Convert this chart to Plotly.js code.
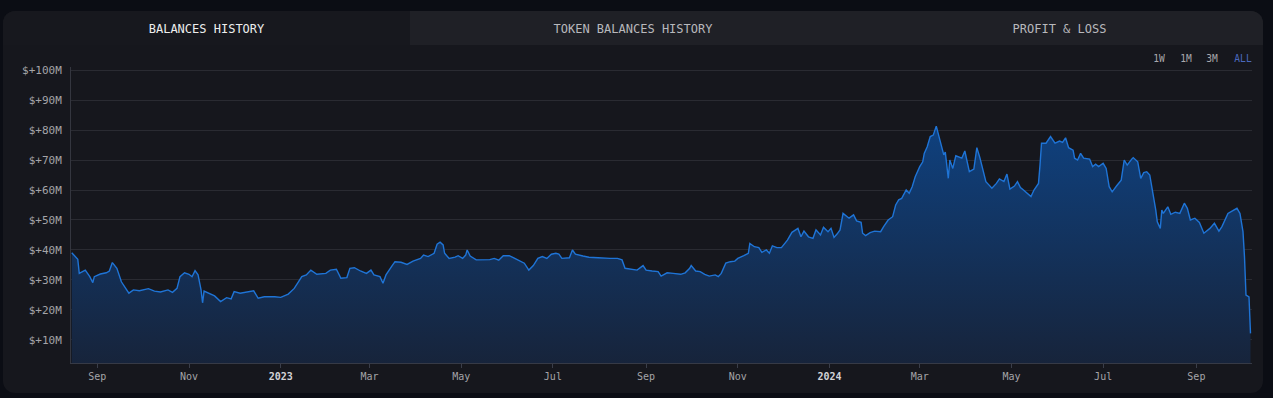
<!DOCTYPE html>
<html>
<head>
<meta charset="utf-8">
<script src="https://cdn.plot.ly/plotly-3.0.1.min.js"></script>
<style>
  html, body { margin:0; padding:0; width:1273px; height:398px; overflow:hidden; background:#0b0d14; }
  #card { position:absolute; left:3px; top:11px; width:1260px; height:382px; background:#16171d; border-radius:12px; overflow:hidden; }
  .tab { position:absolute; top:0; height:34px; line-height:36px; text-align:center;
         font-family:"DejaVu Sans Mono", monospace; font-size:12px; color:#b8b8bc; }
  #tab1 { left:0; width:407px; background:#17181e; color:#ededed; }
  #tab2 { left:407px; width:446px; background:#1f2026; }
  #tab3 { left:853px; width:407px; background:#1f2026; }
  #plot { position:absolute; left:0; top:0; width:1273px; height:398px; }
  .rb { position:absolute; top:53px; font-family:"DejaVu Sans Mono", monospace; font-size:9.6px; color:#a8a8ac; transform:translateX(-50%); }
</style>
</head>
<body>
<div id="card">
  <div class="tab" id="tab1">BALANCES HISTORY</div>
  <div class="tab" id="tab2">TOKEN BALANCES HISTORY</div>
  <div class="tab" id="tab3">PROFIT &amp; LOSS</div>
</div>
<div id="plot"></div>
<span class="rb" style="left:1159px">1W</span>
<span class="rb" style="left:1186px">1M</span>
<span class="rb" style="left:1212px">3M</span>
<span class="rb" style="left:1243px;color:#4a68bd">ALL</span>
<script>
// Balance history (USD millions)
const dates = [
'2022-08-15','2022-08-17','2022-08-19','2022-08-20','2022-08-22','2022-08-24','2022-08-27','2022-08-29','2022-08-30',
'2022-09-03','2022-09-07','2022-09-09','2022-09-11','2022-09-14','2022-09-17','2022-09-19','2022-09-22','2022-09-25','2022-09-29',
'2022-10-05','2022-10-09','2022-10-13','2022-10-18','2022-10-21','2022-10-24','2022-10-26','2022-10-29',
'2022-11-01','2022-11-03','2022-11-05','2022-11-07','2022-11-09','2022-11-10','2022-11-11','2022-11-15','2022-11-18','2022-11-22','2022-11-26','2022-11-29',
'2022-12-01','2022-12-05','2022-12-09','2022-12-14','2022-12-17','2022-12-21','2022-12-28',
'2023-01-01','2023-01-06','2023-01-10','2023-01-15','2023-01-18','2023-01-21','2023-01-25','2023-01-31',
'2023-02-03','2023-02-07','2023-02-10','2023-02-14','2023-02-16','2023-02-19','2023-02-23','2023-02-27',
'2023-03-02','2023-03-04','2023-03-08','2023-03-10','2023-03-12','2023-03-16','2023-03-18','2023-03-22','2023-03-26','2023-03-30',
'2023-04-04','2023-04-06','2023-04-09','2023-04-13','2023-04-15','2023-04-17','2023-04-19','2023-04-20','2023-04-23','2023-04-27','2023-04-29',
'2023-05-02','2023-05-04','2023-05-05','2023-05-07','2023-05-11','2023-05-16','2023-05-20','2023-05-23','2023-05-26','2023-05-29',
'2023-06-02','2023-06-05','2023-06-08','2023-06-12','2023-06-15','2023-06-18','2023-06-21','2023-06-24','2023-06-27','2023-06-30',
'2023-07-03','2023-07-05','2023-07-07','2023-07-12','2023-07-14','2023-07-16','2023-07-21','2023-07-25','2023-07-31',
'2023-08-04','2023-08-08','2023-08-13','2023-08-16','2023-08-18','2023-08-22','2023-08-26','2023-08-30',
'2023-09-01','2023-09-05','2023-09-09','2023-09-11','2023-09-15','2023-09-19','2023-09-24','2023-09-27','2023-09-30',
'2023-10-01','2023-10-04','2023-10-07','2023-10-10','2023-10-13','2023-10-17','2023-10-19','2023-10-21','2023-10-24','2023-10-27','2023-10-30',
'2023-11-01','2023-11-05','2023-11-08','2023-11-09','2023-11-12','2023-11-15','2023-11-17','2023-11-20','2023-11-22','2023-11-24','2023-11-27','2023-11-30',
'2023-12-04','2023-12-07','2023-12-11','2023-12-13','2023-12-15','2023-12-18','2023-12-21','2023-12-23','2023-12-26','2023-12-28','2023-12-31',
'2024-01-02','2024-01-04','2024-01-06','2024-01-08','2024-01-10','2024-01-13','2024-01-14','2024-01-17','2024-01-19','2024-01-22','2024-01-23','2024-01-25','2024-01-28','2024-01-31',
'2024-02-04','2024-02-06','2024-02-09','2024-02-12','2024-02-14','2024-02-16','2024-02-18','2024-02-21','2024-02-23','2024-02-25','2024-02-27',
'2024-03-01','2024-03-03','2024-03-04','2024-03-06','2024-03-08','2024-03-10','2024-03-12','2024-03-13','2024-03-15','2024-03-17','2024-03-18','2024-03-20','2024-03-21','2024-03-23','2024-03-25','2024-03-27','2024-03-29','2024-03-31',
'2024-04-03','2024-04-06','2024-04-08','2024-04-10','2024-04-12','2024-04-14','2024-04-16','2024-04-18','2024-04-21','2024-04-23','2024-04-26','2024-04-28','2024-04-30',
'2024-05-03','2024-05-05','2024-05-07','2024-05-09','2024-05-12','2024-05-14','2024-05-16','2024-05-19','2024-05-20','2024-05-21','2024-05-24','2024-05-27','2024-05-30',
'2024-06-02','2024-06-04','2024-06-06','2024-06-08','2024-06-11','2024-06-12','2024-06-14','2024-06-16','2024-06-18','2024-06-22','2024-06-24','2024-06-26','2024-06-28',
'2024-07-01','2024-07-03','2024-07-05','2024-07-07','2024-07-10','2024-07-13','2024-07-15','2024-07-17','2024-07-20','2024-07-21','2024-07-24','2024-07-26','2024-07-28','2024-07-30',
'2024-08-01','2024-08-03','2024-08-05','2024-08-06','2024-08-08','2024-08-09','2024-08-10','2024-08-13','2024-08-15','2024-08-18','2024-08-21','2024-08-24','2024-08-26','2024-08-28','2024-08-31',
'2024-09-03','2024-09-06','2024-09-10','2024-09-13','2024-09-16','2024-09-18','2024-09-22','2024-09-25','2024-09-28','2024-09-30',
'2024-10-02','2024-10-03','2024-10-04','2024-10-06','2024-10-07'
];
const balances = [
39.1,38.0,36.9,32.2,32.8,33.3,31.1,29.1,31.1,
32.0,32.4,33.0,35.8,33.9,29.4,27.8,25.6,26.7,26.4,
27.1,26.3,26.0,26.7,25.9,27.2,31.1,32.4,
31.9,31.1,33.1,31.7,26.7,22.4,26.3,25.3,24.7,22.8,24.1,23.7,
26.1,25.6,25.9,26.4,23.9,24.4,24.4,
24.2,25.3,27.2,31.1,31.7,33.3,31.9,32.2,
33.3,33.6,30.6,30.8,33.9,34.1,33.0,32.2,
33.3,31.7,31.1,28.9,31.7,34.7,36.1,35.9,35.2,36.3,
37.2,38.3,37.8,38.9,41.9,42.6,41.7,38.9,37.2,37.6,38.1,
37.2,38.3,40.0,38.0,36.7,36.7,36.8,37.2,36.6,38.1,
38.1,37.4,36.7,35.6,33.3,34.8,37.2,37.8,37.2,38.6,
38.9,38.6,37.2,37.4,40.0,38.6,38.0,37.6,37.4,
37.2,37.2,37.2,36.7,33.9,33.6,33.3,34.8,
33.3,33.0,32.8,31.3,32.4,32.2,31.9,32.4,33.9,
34.8,33.0,32.8,31.9,31.3,31.7,31.1,32.2,35.6,36.1,36.3,
37.2,38.1,38.9,42.2,41.1,40.8,39.2,40.0,38.9,41.4,40.8,40.8,
43.3,45.9,47.2,44.4,46.3,44.4,43.9,46.7,45.0,47.6,46.1,
47.2,44.2,45.3,46.7,52.2,51.1,50.6,51.7,49.7,49.2,45.6,44.8,45.8,46.3,
46.1,47.8,50.0,51.1,55.0,56.7,57.2,60.0,58.9,61.1,64.4,
67.8,69.4,72.2,74.4,77.8,78.3,81.3,79.4,76.1,71.7,72.6,63.9,70.0,67.2,71.4,71.1,70.6,73.0,
66.1,67.0,74.1,70.8,67.2,62.8,61.7,60.6,62.2,63.7,62.8,65.3,60.3,
61.3,62.8,60.8,60.0,58.7,57.8,60.0,62.2,68.3,75.6,75.6,77.8,75.6,
76.3,75.9,77.4,74.1,73.3,70.6,70.0,72.2,70.6,70.3,67.8,68.6,67.8,
68.9,67.2,61.1,59.4,61.4,63.3,70.0,68.3,70.3,70.8,69.4,63.9,65.8,66.1,
65.0,59.4,53.3,49.4,47.2,53.3,52.2,54.4,51.9,52.6,52.2,55.6,53.9,50.0,50.6,
49.2,45.6,47.2,48.9,46.3,47.8,52.2,53.0,53.9,52.2,
46.1,37.8,25.0,24.4,12.2
];
const xTickVals = ['2022-09-01','2022-11-01','2023-01-01','2023-03-01','2023-05-01','2023-07-01','2023-09-01','2023-11-01','2024-01-01','2024-03-01','2024-05-01','2024-07-01','2024-09-01'];
const xTickText = ['Sep','Nov','<span style="color:#d2d2d6"><b>2023</b></span>','Mar','May','Jul','Sep','Nov','<span style="color:#d2d2d6"><b>2024</b></span>','Mar','May','Jul','Sep'];

const trace = {
  x: dates, y: balances, type:'scatter', mode:'lines',
  line:{color:'#1f74d6', width:1.4, shape:'linear'},
  fill:'tozeroy',
  fillgradient:{type:'vertical', start:0, stop:82, colorscale:[[0,'#172339'],[1,'#0f417f']]},
  hoverinfo:'skip'
};
const layout = {
  width:1273, height:398, autosize:false,
  paper_bgcolor:'rgba(0,0,0,0)', plot_bgcolor:'rgba(0,0,0,0)',
  margin:{l:71, r:21, t:67, b:35, pad:0},
  showlegend:false,
  font:{family:'"DejaVu Sans Mono", monospace', color:'#a4a4a8'},
  xaxis:{
    type:'date', range:['2022-08-14 12:00','2024-10-08'],
    tickvals:xTickVals, ticktext:xTickText,
    showgrid:false, zeroline:false,
    showline:true, linecolor:'#363a46', linewidth:1,
    ticks:'outside', ticklen:4, tickcolor:'#3a3e4a',
    tickfont:{size:10, color:'#a4a4a8'}
  },
  yaxis:{
    range:[2.33, 101], dtick:10, tick0:0,
    tickprefix:'$+', ticksuffix:'M',
    showgrid:true, gridcolor:'#2a2b32', gridwidth:1,
    zeroline:false, showline:true, linecolor:'#34363f', linewidth:1,
    ticks:'', ticklabelstandoff:6,
    tickfont:{size:11, color:'#a4a4a8'}
  }
};
Plotly.newPlot('plot', [trace], layout, {staticPlot:true, displayModeBar:false});
</script>
</body>
</html>
